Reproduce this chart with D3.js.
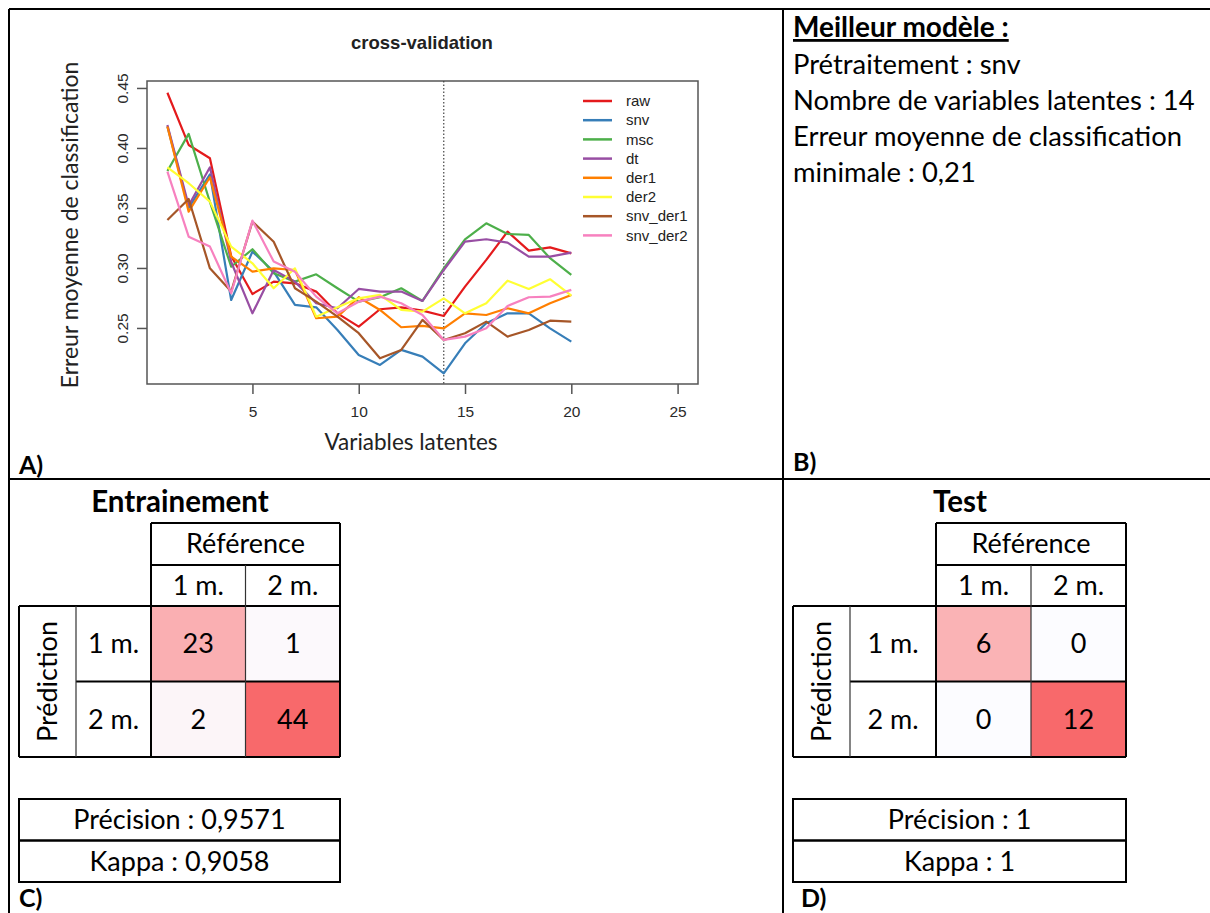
<!DOCTYPE html>
<html>
<head>
<meta charset="utf-8">
<script src="https://cdn.jsdelivr.net/npm/d3@7"></script>
<style>
  body { margin: 0; background: #fff; }
  svg { display: block; }
  .rplot text { font-family: "Liberation Sans", Arial, sans-serif; }
  .word { font-family: Lato, "Open Sans", sans-serif; }
</style>
</head>
<body>
<script>
// number of latent variables
var comps = d3.range(1, 21);

// cross-validation error per preprocessing
var raw      = [0.446, 0.4025, 0.3914, 0.310, 0.2783, 0.2886, 0.2872, 0.2803, 0.2622, 0.2511, 0.2656, 0.2672, 0.2644, 0.260, 0.2844, 0.3067, 0.3303, 0.3144, 0.3172, 0.3122];
var snv      = [0.418, 0.350, 0.378, 0.2733, 0.3136, 0.297, 0.2692, 0.2672, 0.2483, 0.2275, 0.2192, 0.2317, 0.2261, 0.2122, 0.2372, 0.2539, 0.2622, 0.2622, 0.2497, 0.2386];
var msc      = [0.3808, 0.4117, 0.355, 0.301, 0.3156, 0.2956, 0.2886, 0.2947, 0.2831, 0.2719, 0.2756, 0.2831, 0.2725, 0.2997, 0.3239, 0.3372, 0.3283, 0.3275, 0.3081, 0.2942];
var dt       = [0.4192, 0.352, 0.3839, 0.305, 0.2622, 0.2983, 0.2886, 0.2706, 0.2664, 0.2825, 0.2803, 0.2803, 0.2725, 0.2983, 0.3219, 0.3239, 0.3211, 0.3094, 0.3094, 0.3128];
var der1     = [0.4178, 0.3469, 0.3756, 0.3094, 0.2969, 0.2997, 0.2983, 0.2581, 0.2594, 0.2756, 0.265, 0.2506, 0.2517, 0.2497, 0.2622, 0.2608, 0.2664, 0.2622, 0.2706, 0.2775];
var der2     = [0.3839, 0.3706, 0.3553, 0.3178, 0.3039, 0.2831, 0.2997, 0.2594, 0.2672, 0.2747, 0.2775, 0.265, 0.2636, 0.2747, 0.2622, 0.2706, 0.2894, 0.2825, 0.2906, 0.2769];
var snv_der1 = [0.340, 0.3575, 0.2997, 0.2803, 0.3386, 0.3219, 0.2831, 0.2719, 0.2594, 0.2456, 0.2247, 0.2317, 0.2567, 0.240, 0.2456, 0.2553, 0.2428, 0.2483, 0.2561, 0.2553];
var snv_der2 = [0.3803, 0.3261, 0.3178, 0.2789, 0.3394, 0.3053, 0.2969, 0.2761, 0.2622, 0.2719, 0.2761, 0.2706, 0.2608, 0.240, 0.2428, 0.2497, 0.2683, 0.2756, 0.2761, 0.2817];

var seriesNames = ['raw', 'snv', 'msc', 'dt', 'der1', 'der2', 'snv_der1', 'snv_der2'];
var seriesValues = [raw, snv, msc, dt, der1, der2, snv_der1, snv_der2];

var xTicks = [5, 10, 15, 20, 25];
var yTicks = [0.25, 0.30, 0.35, 0.40, 0.45];
var bestComp = 14;

// model summary
var bestLines = ['Prétraitement : snv', 'Nombre de variables latentes : 14', 'Erreur moyenne de classification', 'minimale : 0,21'];

// confusion matrices (rows = prediction, cols = reference)
var classes = ['1 m.', '2 m.'];
var trainMatrix = [[23, 1], [2, 44]];
var testMatrix = [[6, 0], [0, 12]];
var trainStats = ['Précision : 0,9571', 'Kappa : 0,9058'];
var testStats = ['Précision : 1', 'Kappa : 1'];

var W = 1210, H = 913;
var svg = d3.select('body').append('svg').attr('width', W).attr('height', H);
svg.append('rect').attr('width', W).attr('height', H).attr('fill', '#fff');

// ---------- A) cross-validation plot ----------
var plot = svg.append('g').attr('class', 'rplot');
var x = d3.scaleLinear().domain([0.04, 25.96]).range([147, 698]);
var y = d3.scaleLinear().domain([0.2033, 0.4558]).range([384, 81]);
var color = d3.scaleOrdinal().domain(seriesNames).range(d3.schemeSet1);

plot.append('rect')
	.attr('x', x.range()[0]).attr('y', y.range()[1])
	.attr('width', x.range()[1] - x.range()[0]).attr('height', y.range()[0] - y.range()[1])
	.attr('fill', 'none').attr('stroke', '#555').attr('stroke-width', 1.5);

var xAxis = plot.append('g').attr('transform', 'translate(0,' + y.range()[0] + ')')
	.call(d3.axisBottom(x).tickValues(xTicks).tickSize(10).tickPadding(12));
xAxis.select('.domain').remove();
xAxis.selectAll('line').attr('stroke', '#555').attr('stroke-width', 1.5);
xAxis.selectAll('text').attr('font-size', 15.5).attr('fill', '#2a2a2a').attr('font-family', null);

var yAxis = plot.append('g').attr('transform', 'translate(' + x.range()[0] + ',0)')
	.call(d3.axisLeft(y).tickValues(yTicks).tickSize(10).tickFormat(d3.format('.2f')));
yAxis.select('.domain').remove();
yAxis.selectAll('line').attr('stroke', '#555').attr('stroke-width', 1.5);
yAxis.selectAll('text')
	.attr('x', 0).attr('dy', 0).attr('text-anchor', 'middle')
	.attr('transform', 'translate(-19,0) rotate(-90)')
	.attr('font-size', 15.5).attr('fill', '#2a2a2a').attr('font-family', null);

// dotted line at the best number of latent variables
plot.append('line')
	.attr('x1', x(bestComp)).attr('x2', x(bestComp))
	.attr('y1', y.range()[1]).attr('y2', y.range()[0])
	.attr('stroke', '#444').attr('stroke-width', 1.2).attr('stroke-dasharray', '1.5,2');

var line = d3.line()
	.x(function (d, i) {return x(comps[i]);})
	.y(function (d) {return y(d);});

plot.selectAll('path.series').data(seriesValues).enter().append('path')
	.attr('class', 'series')
	.attr('d', line)
	.attr('fill', 'none')
	.attr('stroke', function (d, i) {return color(seriesNames[i]);})
	.attr('stroke-width', 2.2)
	.attr('stroke-linejoin', 'round');

plot.append('text').attr('x', 422).attr('y', 49).attr('text-anchor', 'middle')
	.attr('font-size', 18.5).attr('font-weight', 'bold').attr('fill', '#222')
	.text('cross-validation');

// legend
var legend = plot.selectAll('g.leg').data(seriesNames).enter().append('g')
	.attr('class', 'leg')
	.attr('transform', function (d, i) {return 'translate(583,' + (101 + i * 19.2) + ')';});
legend.append('line').attr('x1', 0).attr('x2', 29)
	.attr('stroke', function (d) {return color(d);}).attr('stroke-width', 2.5);
legend.append('text').attr('x', 43).attr('dy', '0.35em')
	.attr('font-size', 15).attr('fill', '#222')
	.text(function (d) {return d;});

// axis titles (word fonts)
svg.append('text').attr('class', 'word')
	.attr('transform', 'translate(78,225) rotate(-90)').attr('text-anchor', 'middle')
	.attr('font-size', 23).attr('fill', '#222')
	.text('Erreur moyenne de classification');
svg.append('text').attr('class', 'word')
	.attr('x', 411).attr('y', 450).attr('text-anchor', 'middle')
	.attr('font-size', 22.5).attr('fill', '#222')
	.text('Variables latentes');

// ---------- frame ----------
var frame = svg.append('g').attr('stroke', '#000').attr('stroke-width', 2);
frame.append('line').attr('x1', 9).attr('x2', W).attr('y1', 9).attr('y2', 9);
frame.append('line').attr('x1', 9).attr('x2', W).attr('y1', 479).attr('y2', 479);
frame.append('line').attr('x1', 9).attr('x2', 9).attr('y1', 9).attr('y2', H);
frame.append('line').attr('x1', 783).attr('x2', 783).attr('y1', 9).attr('y2', H);

function panelLabel(px, py, txt) {
	svg.append('text').attr('class', 'word').attr('x', px).attr('y', py)
		.attr('font-size', 25).attr('font-weight', 'bold').text(txt);
}
panelLabel(19, 474, 'A)');
panelLabel(793, 471, 'B)');
panelLabel(19, 907, 'C)');
panelLabel(801, 907, 'D)');

// ---------- B) best model ----------
svg.append('text').attr('class', 'word').attr('x', 793).attr('y', 37)
	.attr('font-size', 28).attr('font-weight', 'bold').attr('text-decoration', 'underline')
	.text('Meilleur modèle :');
svg.selectAll('text.best').data(bestLines).enter().append('text')
	.attr('class', 'word best').attr('x', 793)
	.attr('y', function (d, i) {return 74 + i * 36;})
	.attr('font-size', 27.4)
	.text(function (d) {return d;});

// ---------- C) and D) confusion tables ----------
function drawTable(conf) {
	var g = svg.append('g').attr('class', 'word');
	var m = conf.matrix;
	var vals = d3.merge(m);
	var fill = d3.scaleLinear().domain([0, d3.max(vals)]).range(['#FCFCFF', '#F8696B']);
	var cols = d3.scaleBand().domain(classes).range([conf.cellX, conf.right]);
	var rows = d3.scaleBand().domain(classes).range([606, 757]);
	var fs = 27;

	g.append('text').attr('x', conf.titleX).attr('y', 512).attr('text-anchor', 'middle')
		.attr('font-size', 29.5).attr('font-weight', 'bold').text(conf.title);

	// cells
	classes.forEach(function (r, i) {
		classes.forEach(function (c, j) {
			g.append('rect').attr('x', cols(c)).attr('y', rows(r))
				.attr('width', cols.bandwidth()).attr('height', rows.bandwidth())
				.attr('fill', fill(m[i][j]));
			g.append('text').attr('x', cols(c) + cols.bandwidth() / 2).attr('y', rows(r) + rows.bandwidth() / 2)
				.attr('dy', '0.35em').attr('text-anchor', 'middle').attr('font-size', fs)
				.text(m[i][j]);
		});
		g.append('text').attr('x', (conf.labelX + conf.cellX) / 2).attr('y', rows(r) + rows.bandwidth() / 2)
			.attr('dy', '0.35em').attr('text-anchor', 'middle').attr('font-size', fs).text(r);
	});
	classes.forEach(function (c) {
		g.append('text').attr('x', cols(c) + cols.bandwidth() / 2).attr('y', 586)
			.attr('dy', '0.35em').attr('text-anchor', 'middle').attr('font-size', fs).text(c);
	});
	g.append('text').attr('x', (conf.cellX + conf.right) / 2).attr('y', 544)
		.attr('dy', '0.35em').attr('text-anchor', 'middle').attr('font-size', fs).text('Référence');
	g.append('text')
		.attr('transform', 'translate(' + ((conf.left + conf.labelX) / 2) + ',' + ((606 + 757) / 2) + ') rotate(-90)')
		.attr('dy', '0.35em').attr('text-anchor', 'middle').attr('font-size', fs).text('Prédiction');

	// grid lines
	var thick = [[conf.cellX, 523, conf.right, 523], [conf.cellX, 565, conf.right, 565],
		[conf.left, 606, conf.right, 606], [conf.labelX, rows('2 m.'), conf.right, rows('2 m.')],
		[conf.left, 757, conf.right, 757],
		[conf.cellX, 523, conf.cellX, 757], [conf.right, 523, conf.right, 757],
		[conf.left, 606, conf.left, 757]];
	var thin = [[cols('2 m.'), 565, cols('2 m.'), 757], [conf.labelX, 606, conf.labelX, 757]];
	g.selectAll('line.thick').data(thick).enter().append('line').attr('class', 'thick')
		.attr('x1', function (d) {return d[0];}).attr('y1', function (d) {return d[1];})
		.attr('x2', function (d) {return d[2];}).attr('y2', function (d) {return d[3];})
		.attr('stroke', '#000').attr('stroke-width', 2);
	g.selectAll('line.thin').data(thin).enter().append('line').attr('class', 'thin')
		.attr('x1', function (d) {return d[0];}).attr('y1', function (d) {return d[1];})
		.attr('x2', function (d) {return d[2];}).attr('y2', function (d) {return d[3];})
		.attr('stroke', '#333').attr('stroke-width', 1.2);

	// summary box
	var statRows = d3.scaleBand().domain(conf.stats).range([799, 882]);
	g.selectAll('rect.stat').data(conf.stats).enter().append('rect').attr('class', 'stat')
		.attr('x', conf.left).attr('y', function (d) {return statRows(d);})
		.attr('width', conf.right - conf.left).attr('height', statRows.bandwidth())
		.attr('fill', 'none').attr('stroke', '#000').attr('stroke-width', 2);
	g.selectAll('text.stat').data(conf.stats).enter().append('text').attr('class', 'stat')
		.attr('x', (conf.left + conf.right) / 2).attr('y', function (d) {return statRows(d) + statRows.bandwidth() / 2;})
		.attr('dy', '0.35em').attr('text-anchor', 'middle').attr('font-size', fs)
		.text(function (d) {return d;});
}

drawTable({title: 'Entrainement', titleX: 180, matrix: trainMatrix, stats: trainStats,
	left: 19, labelX: 76, cellX: 151, right: 340});
drawTable({title: 'Test', titleX: 960, matrix: testMatrix, stats: testStats,
	left: 793, labelX: 850, cellX: 936, right: 1126});
</script>
</body>
</html>
